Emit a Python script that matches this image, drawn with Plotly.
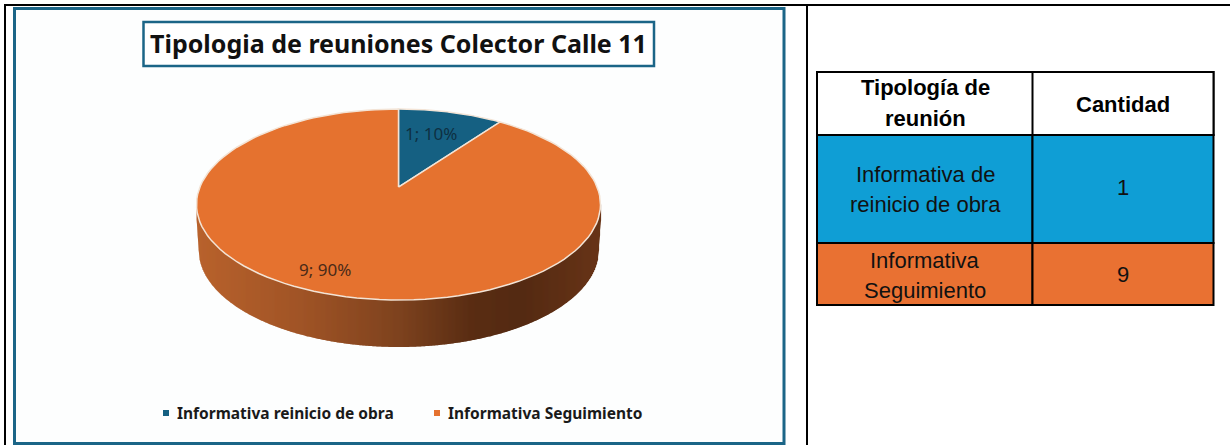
import math
import plotly.graph_objects as go

# ---- data ----
chart_title = "Tipologia de reuniones Colector Calle 11"
categories = ["Informativa reinicio de obra", "Informativa Seguimiento"]
values = [1, 9]
slice_colors = ["#156082", "#E5722F"]
table_headers = [["Tipología de", "reunión"], ["Cantidad"]]
table_names = [["Informativa de", "reinicio de obra"], ["Informativa", "Seguimiento"]]
table_counts = [1, 9]
table_fills = ["#0F9ED5", "#E97132"]

# ---- geometry (pixel-space axes) ----
W, H = 1230, 445
CX, CY, RX, RY = 398.5, 204.5, 202, 95.5   # top ellipse
LOW_CY, LOW_RX, LOW_RY = 250, 200, 97      # lower rim of the wall
BETA = 0.183                               # perspective shift of the pie centre


def project(angle):
    """Clockwise angle from 12 o'clock on a flat disc -> tilted-pie pixel."""
    u, v = math.sin(angle), math.cos(angle)
    d = 1 + BETA * v
    return (CX + RX * u * math.sqrt(1 - BETA ** 2) / d, CY - RY * (v + BETA) / d)


def wedge(a0, a1, n=120):
    pts = [project(a0 + (a1 - a0) * i / n) for i in range(n + 1)]
    apex = (CX, CY - RY * BETA)
    xs = [apex[0]] + [p[0] for p in pts] + [apex[0]]
    ys = [apex[1]] + [p[1] for p in pts] + [apex[1]]
    return xs, ys


def lerp_color(x):
    stops = [(197, (184, 98, 44)), (300, (160, 84, 38)), (400, (125, 66, 30)),
             (470, (90, 45, 19)), (520, (84, 42, 18)), (601, (104, 52, 23))]
    for (x0, c0), (x1, c1) in zip(stops, stops[1:]):
        if x <= x1:
            t = (x - x0) / (x1 - x0)
            return "rgb(%d,%d,%d)" % tuple(round(a + (b - a) * t) for a, b in zip(c0, c1))
    return "rgb(104,52,23)"


def wall_bottom(x):
    dx = (x - CX) / LOW_RX
    if abs(dx) >= 1:
        return LOW_CY - 30 * (abs(x - CX) - LOW_RX) / (RX - LOW_RX)
    return LOW_CY + LOW_RY * math.sqrt(1 - dx ** 2)


shapes = []


def rect(x0, y0, x1, y1, fill=None, line=None, width=0, layer="below"):
    shapes.append(dict(type="rect", xref="x", yref="y", x0=x0, y0=y0, x1=x1, y1=y1, layer=layer,
                       fillcolor=fill or "rgba(0,0,0,0)",
                       line=dict(color=line or "rgba(0,0,0,0)", width=width)))


# outer document frame
rect(4, 4, W + 5, 6, "#000000")
rect(4, 4, 6, H + 5, "#000000")
rect(806, 4, 808, H + 5, "#000000")

# chart image frame
rect(14.5, 8.5, 784, 443.5, "#FDFEFE", "#1B6587", 3)
rect(143.5, 22, 654, 66, "#FFFFFF", "#1B6587", 2.5)

# side wall of the pie: gradient strips with slanted lower edges
step = 1.0
x = CX - RX
while x < CX + RX - 0.01:
    x1 = min(x + step, CX + RX)
    path = (f"M{x:.2f},{CY} L{x1 + 0.6:.2f},{CY} L{x1 + 0.6:.2f},{wall_bottom(x1):.2f} "
            f"L{x:.2f},{wall_bottom(x):.2f} Z")
    shapes.append(dict(type="path", xref="x", yref="y", path=path, layer="below",
                       fillcolor=lerp_color(x), line=dict(width=0)))
    x = x1

# table cells
TX = [817, 1032.5, 1213.5]
TY = [72, 135, 243, 305]
rect(TX[0], TY[0], TX[2], TY[1], "#FFFFFF", "#000000", 2)
rect(TX[1], TY[0], TX[2], TY[1], "#FFFFFF", "#000000", 2)
for i, fill in enumerate(table_fills):
    rect(TX[0], TY[i + 1], TX[1], TY[i + 2], fill, "#000000", 2)
    rect(TX[1], TY[i + 1], TX[2], TY[i + 2], fill, "#000000", 2)

fig = go.Figure()
total = sum(values)

# slices from the values
start = 0.0
labels = []
for name, val, col in zip(categories, values, slice_colors):
    end = start + 2 * math.pi * val / total
    xs, ys = wedge(start, end)
    fig.add_trace(go.Scatter(x=xs, y=ys, mode="lines", fill="toself", fillcolor=col, name=name,
                             line=dict(color="#F3E4D6", width=1.5), hoverinfo="name", showlegend=False))
    labels.append(f"{val}; {round(100 * val / total)}%")
    start = end

ann = []


def text(x, y, s, size, color="#000000", family="Liberation Sans", bold=False, anchor="center"):
    ann.append(dict(x=x, y=y, xref="x", yref="y", text=f"<b>{s}</b>" if bold else s, showarrow=False,
                    xanchor=anchor, yanchor="middle",
                    font=dict(size=size, color=color, family=family)))


text(398.5, 43, chart_title, 25, "#111111", "Noto Sans", True)
text(430.5, 133, labels[0], 17, "#0E3042", "Noto Sans")
text(324.5, 269, labels[1], 17, "#4A2A18", "Noto Sans")

# legend
fig.add_trace(go.Scatter(x=[166, 437], y=[413, 413], mode="markers", showlegend=False, hoverinfo="skip",
                         marker=dict(symbol="square", size=6, color=slice_colors, line=dict(width=0))))
text(175, 413, categories[0], 15.5, "#1A1A1A", "Noto Sans", True, "left")
text(446, 413, categories[1], 15.5, "#1A1A1A", "Noto Sans", True, "left")

# table text
text(925, 87, table_headers[0][0], 22, bold=True)
text(925, 118, table_headers[0][1], 22, bold=True)
text(1123, 104, table_headers[1][0], 22, bold=True)
text(925, 174, table_names[0][0], 22, "#111111")
text(925, 204, table_names[0][1], 22, "#111111")
text(1123, 187, str(table_counts[0]), 22, "#111111")
text(925, 260, table_names[1][0], 22, "#111111")
text(925, 290, table_names[1][1], 22, "#111111")
text(1123, 274, str(table_counts[1]), 22, "#111111")

fig.update_layout(
    width=W, height=H, margin=dict(l=0, r=0, t=0, b=0), autosize=False,
    paper_bgcolor="#FFFFFF", plot_bgcolor="#FFFFFF", showlegend=False,
    xaxis=dict(range=[0, W], visible=False, fixedrange=True, domain=[0, 1]),
    yaxis=dict(range=[H, 0], visible=False, fixedrange=True, domain=[0, 1]),
    shapes=shapes, annotations=ann,
)

fig.write_html("out.html", config={"displayModeBar": False},
               post_script="document.body.style.margin='0';document.documentElement.style.overflow='hidden';")
